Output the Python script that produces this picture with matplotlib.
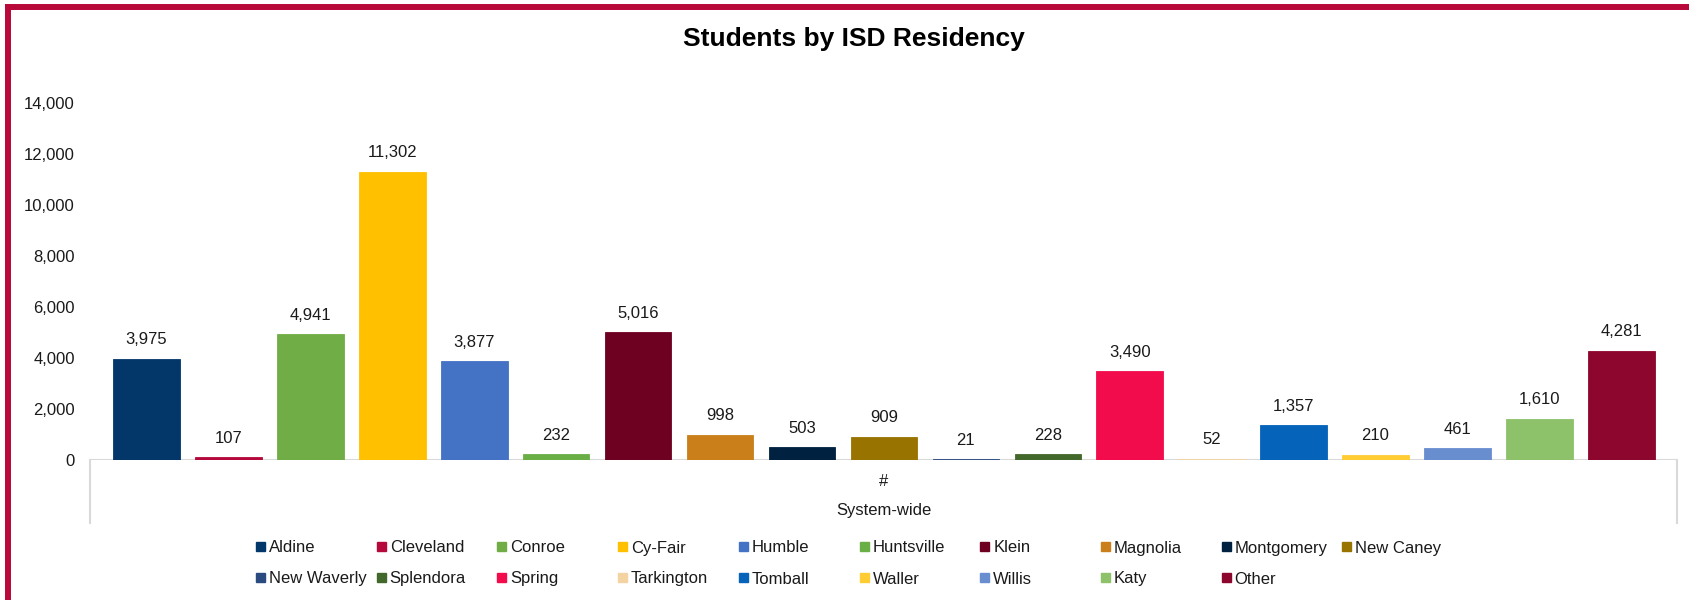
import matplotlib
matplotlib.use("Agg")
import matplotlib.pyplot as plt
from matplotlib.lines import Line2D
from matplotlib.patches import Rectangle

plt.rcParams['font.family'] = ['Liberation Sans', 'DejaVu Sans']

districts = ['Aldine', 'Cleveland', 'Conroe', 'Cy-Fair', 'Humble', 'Huntsville',
             'Klein', 'Magnolia', 'Montgomery', 'New Caney', 'New Waverly',
             'Splendora', 'Spring', 'Tarkington', 'Tomball', 'Waller', 'Willis',
             'Katy', 'Other']
students = [3975, 107, 4941, 11302, 3877, 232, 5016, 998, 503, 909, 21, 228,
            3490, 52, 1357, 210, 461, 1610, 4281]
colors = ['#03376A', '#B5083B', '#70AD47', '#FFC000', '#4472C4', '#6AAE46',
          '#6E0021', '#CA7F1A', '#002240', '#997300', '#2A4A80', '#43682B',
          '#F20C4C', '#F4D3A2', '#0563BA', '#FFCD33', '#698ED0', '#8DC26B',
          '#8D062D']
yticks = [0, 2000, 4000, 6000, 8000, 10000, 12000, 14000]

W, H = 1690, 600
fig = plt.figure(figsize=(16.9, 6.0), dpi=100)
ax = fig.add_axes([90 / W, 1 - 460 / H, 1587 / W, 357 / H])

xs = list(range(len(districts)))
# thin same-colour edge keeps the tiny bars (21, 52) visible like in Excel
ax.bar(xs, students, width=0.812, color=colors, edgecolor=colors, linewidth=0.6,
       zorder=2)
for x, v in zip(xs, students):
    ax.annotate(f'{v:,}', (x, v), xytext=(0, 19), textcoords='offset pixels',
                ha='center', va='center', fontsize=12, color='#1a1a1a')

ax.set_xlim(-0.69, 18.68)
ax.set_ylim(0, 14000)
ax.set_yticks(yticks)
ax.set_yticklabels([f'{t:,}' for t in yticks])
ax.tick_params(axis='y', length=0, pad=11, labelsize=12, labelcolor='#1a1a1a')
ax.set_xticks([])
for s in ax.spines.values():
    s.set_visible(False)
ax.axhline(0, color='#d9d9d9', lw=1.5, zorder=1)

# category axis box
box_bottom = -(523 - 460) / 357
for xb in (0, 1):
    ax.plot([xb, xb], [0, box_bottom], transform=ax.transAxes, color='#d9d9d9',
            lw=1.5, clip_on=False)
ax.text(0.5, -(482 - 460) / 357, '#', transform=ax.transAxes, ha='center',
        va='center', fontsize=12, color='#1a1a1a')
ax.text(0.5, -(510 - 460) / 357, 'System-wide', transform=ax.transAxes,
        ha='center', va='center', fontsize=12, color='#1a1a1a')

fig.text(853.5 / W, 1 - 46 / H, 'Students by ISD Residency', ha='center',
         va='baseline', fontsize=19, fontweight='bold')

# legend with evenly spaced columns
for i, (name, c) in enumerate(zip(districts, colors)):
    col, row = i % 10, i // 10
    x0 = 256 + 120.7 * col
    yc = 548 + 31 * row
    fig.add_artist(Rectangle((x0 / W, 1 - (yc + 2.5) / H), 9 / W, 9 / H,
                             transform=fig.transFigure, color=c))
    fig.text((x0 + 13) / W, 1 - yc / H, name, ha='left', va='center',
             fontsize=12, color='#1a1a1a')

# outer frame (left and top edges visible)
bc = '#B8093A'
fig.add_artist(Line2D([8.5 / W, 8.5 / W], [0, 1 - 7 / H], transform=fig.transFigure,
                      color=bc, lw=4.3, solid_capstyle='projecting'))
fig.add_artist(Line2D([8.5 / W, 1], [1 - 7 / H, 1 - 7 / H], transform=fig.transFigure,
                      color=bc, lw=4.3, solid_capstyle='projecting'))

fig.savefig('out.png', dpi=100)
